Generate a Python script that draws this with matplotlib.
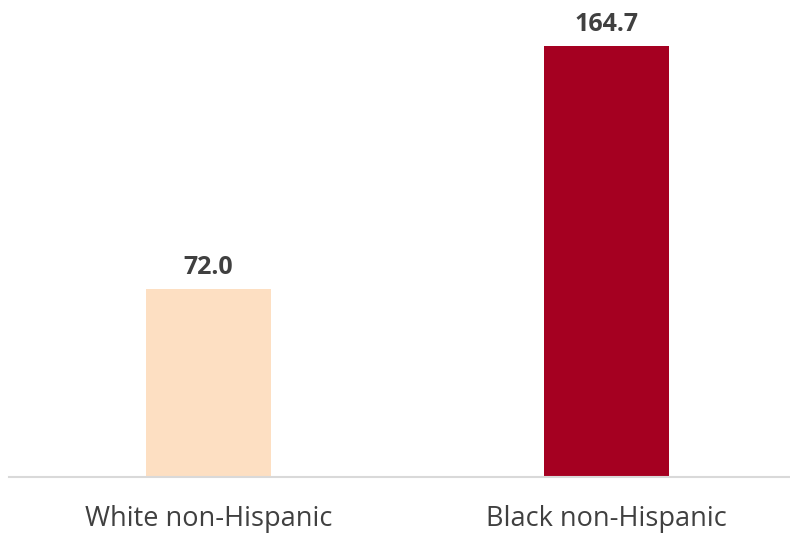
import matplotlib
matplotlib.use("Agg")
import matplotlib.pyplot as plt

categories = ["White non-Hispanic", "Black non-Hispanic"]
values = [72.0, 164.7]
colors = ["#FDDFC2", "#A50021"]

plt.rcParams['font.family'] = ['Open Sans', 'DejaVu Sans']

fig = plt.figure(figsize=(7.9, 5.33), dpi=100)
ax = fig.add_axes([9/790, 56/533, 781/790, 477/533])
x = list(range(len(categories)))
bars = ax.bar(x, values, width=0.314, color=colors, zorder=2)
ax.set_xlim(-0.501, 1.461)
ax.set_ylim(0, 182.3)
for xi, v in zip(x, values):
    ax.annotate(f"{v:.1f}", (xi, v), xytext=(0, 6.5), textcoords="offset points",
                ha="center", va="bottom", fontsize=18, fontweight="bold", color="#404040")
for s in ["top", "right", "left"]:
    ax.spines[s].set_visible(False)
ax.spines["bottom"].set_color("#D9D9D9")
ax.spines["bottom"].set_linewidth(1.5)
ax.set_yticks([])
ax.set_xticks(x)
ax.set_xticklabels(categories, fontsize=19.5, color="#404040")
ax.tick_params(axis="x", length=0, pad=20)
fig.savefig("out.png", dpi=100)
